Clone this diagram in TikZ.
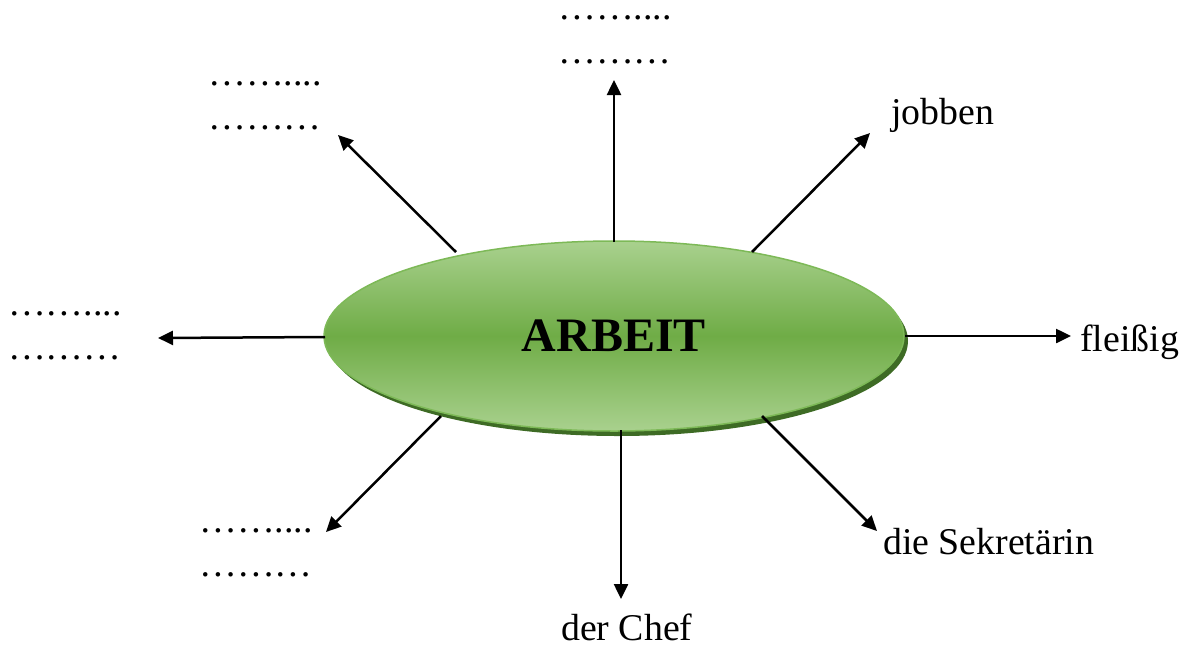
\documentclass[tikz,border=0pt]{standalone}
\usepackage{fontspec}
\setmainfont{Liberation Serif}
\usetikzlibrary{arrows.meta,shapes.geometric}
\definecolor{glight}{HTML}{A9D18E}
\definecolor{gmid}{HTML}{6FAC46}
\definecolor{gedge}{HTML}{7DB957}
\definecolor{gshadow}{HTML}{3E6B25}
\begin{document}
\begin{tikzpicture}[x=1pt,y=-1pt,
  lbl/.style={inner sep=0pt,anchor=base west,font=\fontsize{37.8}{44}\selectfont,align=left},
  conn/.style={line width=2.5pt,-{Triangle[length=15pt,width=14pt]}}]
\useasboundingbox (0,0) rectangle (1189,646);
% shadow
\node[ellipse,minimum width=580pt,minimum height=190pt,fill=gshadow,inner sep=0pt] (sh) at (618,341) {};
\node[ellipse,minimum width=580pt,minimum height=190pt,inner sep=0pt,draw=gedge,line width=1.5pt,
  top color=glight,bottom color=glight,middle color=gmid,
  font=\fontsize{48}{56}\selectfont\bfseries] (arb) at (614,336) {ARBEIT};
% labels
\node[lbl] (t) at (558,63) {……....\\………};
\node[lbl] (ul) at (208,129) {……....\\………};
\node[lbl] (l) at (8,359) {……....\\………};
\node[lbl] (dl) at (199,576) {……....\\………};
\node[lbl] (jo) at (891,124) {jobben};
\node[lbl] (fl) at (1080,351) {fleißig};
\node[lbl] (se) at (883,554) {die Sekretärin};
\node[lbl] (ch) at (561,640) {der Chef};
% connector end points
\coordinate (s1) at (614,242); \coordinate (e1) at (614,80);
\coordinate (s2) at (456,252); \coordinate (e2) at (338,135);
\coordinate (s3) at (752,252); \coordinate (e3) at (870,133);
\coordinate (s4) at (325,337); \coordinate (e4) at (158,338);
\coordinate (s5) at (905,336); \coordinate (e5) at (1071,336);
\coordinate (s6) at (441,416); \coordinate (e6) at (326,532);
\coordinate (s7) at (621,430); \coordinate (e7) at (621,599);
\coordinate (s8) at (762,416); \coordinate (e8) at (877,531);
\foreach \i in {1,...,8} {\draw[conn] (s\i) -- (e\i);}
\end{tikzpicture}
\end{document}
